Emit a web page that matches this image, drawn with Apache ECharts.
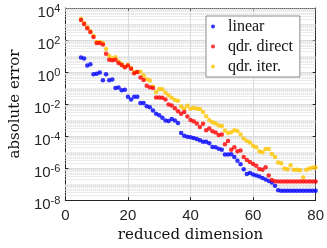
<!DOCTYPE html>
<html><head><meta charset="utf-8">
<script src="https://cdn.jsdelivr.net/npm/echarts@6/dist/echarts.min.js"></script>
<style>html,body{margin:0;padding:0;background:#fff}#c{width:327px;height:248px}</style>
</head><body><div id="c"></div>
<script>
const dims = [5,6,7,8,9,10,11,12,13,14,15,16,17,18,19,20,21,22,23,24,25,26,27,28,29,30,31,32,33,34,35,36,37,38,39,40,41,42,43,44,45,46,47,48,49,50,51,52,53,54,55,56,57,58,59,60,61,62,63,64,65,66,67,68,69,70,71,72,73,74,75,76,77,78,79,80];
const linearErr = [8.1,7.1,2.6,3.1,0.72,0.79,0.95,0.31,0.72,0.31,0.34,0.1,0.11,0.074,0.079,0.029,0.019,0.029,0.029,0.0117,0.0117,7.4e-3,6.2e-3,4.0e-3,2.5e-3,2.0e-3,1.38e-3,9.3e-4,8.7e-4,1.15e-3,9.5e-4,6.5e-4,1.58e-4,1.05e-4,9.1e-5,8.3e-5,7.6e-5,6.5e-5,5.4e-5,4.4e-5,4.4e-5,3.5e-5,2.1e-5,2.0e-5,1.62e-5,1.41e-5,7.1e-6,7.1e-6,7.4e-6,5.0e-6,2.9e-6,1.74e-6,8.5e-7,4.3e-7,5.0e-7,4.0e-7,3.5e-7,2.95e-7,2.4e-7,1.95e-7,1.55e-7,1.26e-7,7.9e-8,4.1e-8,3.8e-8,3.8e-8,3.8e-8,3.8e-8,3.8e-8,3.8e-8,3.8e-8,3.8e-8,3.8e-8,3.8e-8,3.8e-8,3.8e-8];
const directErr = [1.78e3,1.0e3,5.5e2,3.16e2,1.55e2,65,65,52,13.8,5.9,5.4,5.8,3.7,2.8,2.0,2.6,1.58,0.83,1.0,0.46,0.32,0.14,0.112,0.1,0.026,0.026,0.025,0.019,9.3e-3,8.1e-3,5.5e-3,3.6e-3,2.5e-3,3.2e-3,1.66e-3,1.02e-3,8.5e-4,6.2e-4,3.7e-4,5.9e-4,2.3e-4,2.95e-4,2.0e-4,1.66e-4,1.15e-4,1.26e-4,3.1e-5,5.0e-5,1.41e-5,2.0e-5,1.12e-5,1.26e-5,5.0e-6,3.2e-6,2.4e-6,1.78e-6,1.41e-6,8.9e-7,7.9e-7,1.12e-6,3.5e-7,1.78e-7,1.51e-7,1.45e-7,1.45e-7,1.45e-7,1.45e-7,1.45e-7,1.45e-7,1.45e-7,1.45e-7,1.45e-7,1.45e-7,1.45e-7,1.45e-7,1.45e-7];
const iterErr = [2.1e3,1.17e3,6.3e2,3.5e2,1.78e2,76,74,66,27.5,10.5,7.1,8.3,4.5,3.2,2.1,2.8,1.78,1.0,1.0,1.05,0.6,0.35,0.3,0.126,0.056,0.087,0.083,0.05,0.035,0.025,0.0178,0.0158,7.1e-3,5.0e-3,7.8e-3,5.0e-3,5.9e-3,5.1e-3,4.9e-3,3.2e-3,1.74e-3,1.0e-3,7.4e-4,6.3e-4,4.5e-4,4.3e-4,2.2e-4,1.58e-4,1.74e-4,2.3e-4,2.1e-4,1.26e-4,7.1e-5,5.0e-5,4.0e-5,2.5e-5,2.0e-5,1.12e-5,9.8e-6,1.55e-5,1.55e-5,7.6e-6,5.0e-6,2.2e-6,2.0e-6,9.3e-7,8.5e-7,1.51e-6,7.9e-7,7.8e-7,7.4e-7,2.6e-7,7.8e-7,9.3e-7,1.07e-6,1.07e-6];
const seriesNames = ['linear', 'qdr. direct', 'qdr. iter.'];
const xTicks = [0, 20, 40, 60, 80];
const yDecades = [-8, -7, -6, -5, -4, -3, -2, -1, 0, 1, 2, 3];

const pair = arr => dims.map((d, i) => [d, arr[i]]);
const minorLines = [];
yDecades.forEach(e => {
  for (let k = 1; k <= 9; k++) {
    if (k === 1 && e % 2 === 0) continue;
    const v = k * Math.pow(10, e);
    minorLines.push({ coords: [[xTicks[0], v], [xTicks[xTicks.length - 1], v]] });
  }
});
const axisColor = '#262626';
const sans = 'Liberation Sans';
const serif = 'DejaVu Serif';
const chart = echarts.init(document.getElementById('c'), null, { renderer: 'canvas' });
chart.setOption({
  animation: false,
  backgroundColor: '#fff',
  grid: { left: 58, right: 9, top: 8, bottom: 43, containLabel: false },
  legend: {
    data: seriesNames.map(n => ({ name: n, icon: 'circle' })),
    orient: 'vertical', left: 206, top: 16,
    itemWidth: 20, itemHeight: 4, itemGap: 4,
    padding: [2.5, 7, 2.5, 5],
    borderColor: '#8c8c8c', borderWidth: 1, backgroundColor: '#fff',
    textStyle: { fontFamily: 'Liberation Serif', fontSize: 16, color: '#111', lineHeight: 15 },
    selectedMode: false
  },
  xAxis: [{
    type: 'value', min: 0, max: 80, interval: 20,
    name: 'reduced dimension', nameLocation: 'middle', nameGap: 27,
    nameTextStyle: { fontFamily: serif, fontSize: 15, color: '#111' },
    axisLine: { show: true, lineStyle: { color: axisColor, width: 1 } },
    axisTick: { show: true, inside: true, length: 3, lineStyle: { color: axisColor } },
    axisLabel: { fontFamily: sans, fontSize: 15, color: axisColor, margin: 8 },
    splitLine: { show: true, lineStyle: { color: '#dcdcdc', width: 1 } }
  }, {
    type: 'value', min: 0, max: 80, interval: 20, position: 'top',
    axisLine: { show: true, onZero: false, lineStyle: { color: axisColor, width: 1 } },
    axisTick: { show: true, inside: true, length: 3, lineStyle: { color: axisColor } },
    axisLabel: { show: false }, splitLine: { show: false }
  }],
  yAxis: [{
    type: 'log', logBase: 10, min: 1e-8, max: 1e4, interval: 2,
    name: 'absolute error', nameLocation: 'middle', nameGap: 40, nameRotate: 90,
    nameTextStyle: { fontFamily: serif, fontSize: 15, color: '#111' },
    axisLine: { show: true, lineStyle: { color: axisColor, width: 1 } },
    axisTick: { show: true, inside: true, length: 3, lineStyle: { color: axisColor } },
    axisLabel: {
      margin: 5, color: axisColor, padding: [7, 0, 0, 0],
      formatter: v => '{b|10}{s|' + Math.round(Math.log10(v)) + '}',
      rich: {
        b: { fontFamily: sans, fontSize: 15, color: axisColor, verticalAlign: 'bottom' },
        s: { fontFamily: sans, fontSize: 11, color: axisColor, verticalAlign: 'bottom', padding: [0, 0, 6, 0] }
      }
    },
    splitLine: { show: true, lineStyle: { color: '#dcdcdc', width: 1 } }
  }, {
    type: 'log', logBase: 10, min: 1e-8, max: 1e4, interval: 2, position: 'right',
    axisLine: { show: true, onZero: false, lineStyle: { color: axisColor, width: 1 } },
    axisTick: { show: true, inside: true, length: 3, lineStyle: { color: axisColor } },
    axisLabel: { show: false }, splitLine: { show: false }
  }],
  series: [
    {
      type: 'lines', coordinateSystem: 'cartesian2d', silent: true, z: 1,
      polyline: false, symbol: ['none', 'none'],
      lineStyle: { color: '#dadada', type: [1, 1], width: 1, opacity: 1 },
      data: minorLines
    },
    { name: seriesNames[0], type: 'scatter', data: pair(linearErr), symbolSize: 4.5, itemStyle: { color: '#0000ff' }, z: 10 },
    { name: seriesNames[2], type: 'scatter', data: pair(iterErr), symbolSize: 4.5, itemStyle: { color: '#ffc400' }, z: 11 },
    { name: seriesNames[1], type: 'scatter', data: pair(directErr), symbolSize: 4.5, itemStyle: { color: '#ff0000' }, z: 12 }
  ]
});
</script>
</body></html>
